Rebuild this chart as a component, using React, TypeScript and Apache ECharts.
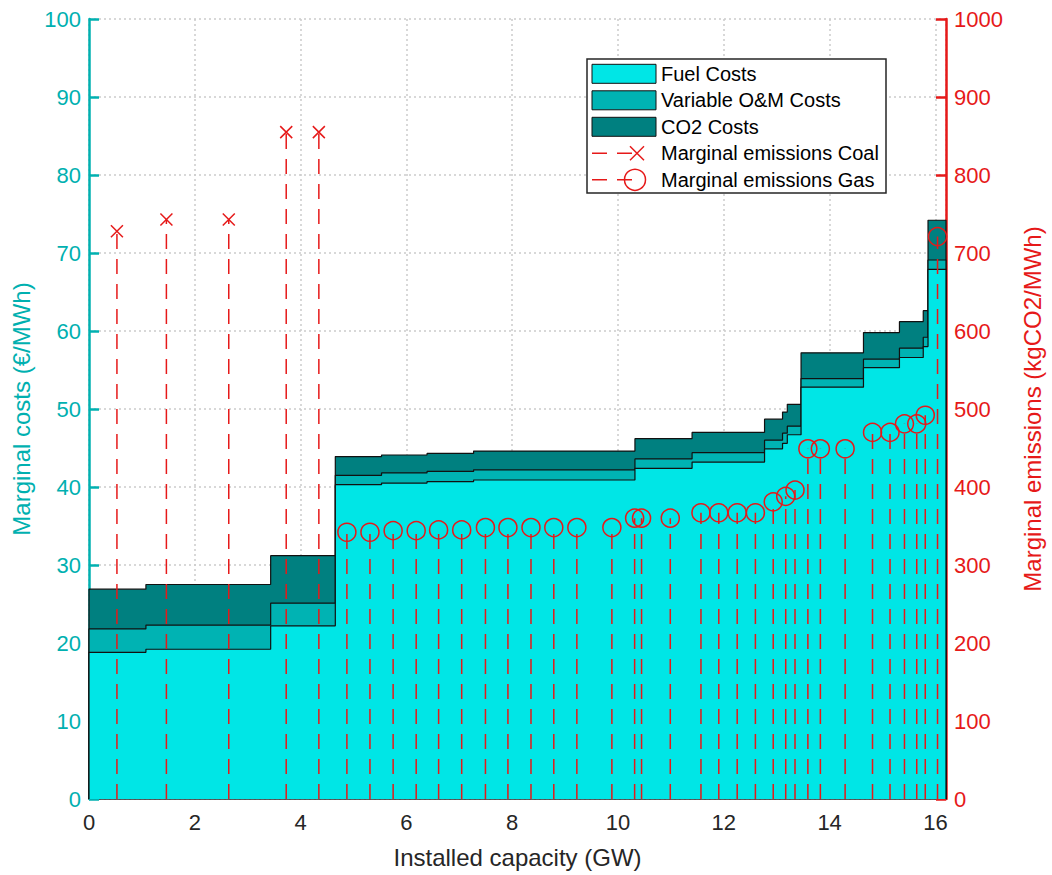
import React, { useEffect, useRef } from "react";
import * as echarts from "echarts";

// ---- Data ----
// Merit-order steps: start capacity (GW) of each visible cost step
const segStart = [0, 1.076, 3.434, 4.656, 5.53, 6.39, 7.27, 10.32, 11.4, 12.77, 13.11, 13.2, 13.46, 14.64, 15.32, 15.77, 15.86];
const capacityEnd = 16.2;
// Cost components (€/MWh) per step
const fuelCost = [18.8, 19.2, 22.2, 40.3, 40.5, 40.7, 40.9, 42.4, 43.2, 44.9, 45.6, 46.7, 52.8, 55.3, 56.6, 58.0, 67.9];
const omCost = [3.0, 3.1, 2.9, 1.2, 1.3, 1.3, 1.3, 1.2, 1.2, 1.1, 1.3, 1.1, 1.1, 1.1, 1.2, 1.2, 1.2];
const co2Cost = [5.1, 5.2, 6.1, 2.4, 2.3, 2.3, 2.4, 2.6, 2.6, 2.7, 2.7, 2.8, 3.3, 3.4, 3.4, 3.4, 5.1];

// Marginal emissions (kgCO2/MWh) at the middle of each plant
const coalCapacity = [0.528, 1.463, 2.642, 3.728, 4.345];
const coalEmissions = [728, 743, 743, 855, 855];
const gasCapacity = [4.875, 5.311, 5.749, 6.185, 6.609, 7.045, 7.494, 7.919, 8.355, 8.786, 9.222, 9.884, 10.314, 10.445, 10.988, 11.568, 11.905, 12.253, 12.597, 12.934, 13.17, 13.346, 13.589, 13.825, 14.293, 14.811, 15.142, 15.415, 15.647, 15.808, 16.04];
const gasEmissions = [342, 342, 344, 344, 345, 345, 348, 348, 348, 348, 348, 348, 360, 360, 360, 367, 367, 367, 367, 381, 388, 396, 449, 449, 449, 470, 470, 481, 481, 492, 721];

const xMax = 16.2;
const costTicks = { min: 0, max: 100, interval: 10 };
const emissionTicks = { min: 0, max: 1000, interval: 100 };

const seriesNames = ["Fuel Costs", "Variable O&M Costs", "CO2 Costs", "Marginal emissions Coal", "Marginal emissions Gas"];

// ---- Styles ----
const FONT = "'Liberation Sans', Arial, Helvetica, sans-serif";
const FUEL = "#00e6e6";
const OM = "#00b3b3";
const CO2 = "#008080";
const TEAL = "#00b0b0";
const RED = "#e61919";
const DARK = "#262626";

function stepData(values: number[]): number[][] {
  const pts: number[][] = [[0, 0]];
  segStart.forEach((x, i) => pts.push([x, values[i]]));
  pts.push([capacityEnd, values[values.length - 1]]);
  pts.push([capacityEnd, 0]);
  return pts;
}

export default function App() {
  const ref = useRef<HTMLDivElement | null>(null);

  useEffect(() => {
    if (!ref.current) return;
    const chart = echarts.init(ref.current, undefined, { renderer: "svg" });

    const fuelTop = fuelCost.map((f) => f);
    const omTop = fuelCost.map((f, i) => f + omCost[i]);
    const totalTop = fuelCost.map((f, i) => f + omCost[i] + co2Cost[i]);

    const areaSeries = (name: string, vals: number[], color: string, z: number) => ({
      name,
      type: "line",
      step: "end",
      data: stepData(vals),
      showSymbol: false,
      symbol: "none",
      z,
      lineStyle: { color: "#111111", width: 1.2 },
      itemStyle: { color },
      areaStyle: { color, opacity: 1 },
      yAxisIndex: 0,
      silent: true,
    });

    const stemSeries = (name: string, caps: number[], vals: number[], kind: "x" | "o") => ({
      name,
      type: "custom",
      yAxisIndex: 1,
      z: 10,
      data: caps.map((c, i) => [c, vals[i]]),
      encode: { x: 0, y: 1 },
      renderItem: (_params: any, api: any) => {
        const x = api.value(0);
        const v = api.value(1);
        const p0 = api.coord([x, 0]);
        const p1 = api.coord([x, v]);
        const children: any[] = [
          {
            type: "line",
            shape: { x1: p0[0], y1: p0[1], x2: p1[0], y2: p1[1] },
            style: { stroke: RED, lineWidth: 1.5, lineDash: [15, 10], fill: "none" },
          },
        ];
        if (kind === "x") {
          const s = 6;
          children.push(
            { type: "line", shape: { x1: p1[0] - s, y1: p1[1] - s, x2: p1[0] + s, y2: p1[1] + s }, style: { stroke: RED, lineWidth: 1.5 } },
            { type: "line", shape: { x1: p1[0] - s, y1: p1[1] + s, x2: p1[0] + s, y2: p1[1] - s }, style: { stroke: RED, lineWidth: 1.5 } }
          );
        } else {
          children.push({ type: "circle", shape: { cx: p1[0], cy: p1[1], r: 9 }, style: { stroke: RED, fill: "none", lineWidth: 1.5 } });
        }
        return { type: "group", children };
      },
      silent: true,
    });

    // Legend drawn with graphic elements
    const lgX = 587, lgY = 59, lgW = 299, lgH = 134;
    const rows = [73.8, 100.3, 126.8, 153.3, 179.8];
    const swX = 592, swW = 64, swH = 19;
    const legendEls: any[] = [
      { type: "rect", shape: { x: lgX, y: lgY, width: lgW, height: lgH }, style: { fill: "#ffffff", stroke: DARK, lineWidth: 1.5 }, z: 100 },
    ];
    [FUEL, OM, CO2].forEach((c, i) => {
      legendEls.push({ type: "rect", shape: { x: swX, y: rows[i] - swH / 2, width: swW, height: swH }, style: { fill: c, stroke: "#111111", lineWidth: 1 }, z: 101 });
    });
    // coal icon
    legendEls.push({ type: "line", shape: { x1: 592, y1: rows[3], x2: 637, y2: rows[3] }, style: { stroke: RED, lineWidth: 1.5, lineDash: [15, 10] }, z: 101 });
    legendEls.push({ type: "line", shape: { x1: 630, y1: rows[3] - 7, x2: 644, y2: rows[3] + 7 }, style: { stroke: RED, lineWidth: 1.5 }, z: 101 });
    legendEls.push({ type: "line", shape: { x1: 630, y1: rows[3] + 7, x2: 644, y2: rows[3] - 7 }, style: { stroke: RED, lineWidth: 1.5 }, z: 101 });
    // gas icon
    legendEls.push({ type: "line", shape: { x1: 592, y1: rows[4], x2: 635, y2: rows[4] }, style: { stroke: RED, lineWidth: 1.5, lineDash: [15, 10] }, z: 101 });
    legendEls.push({ type: "circle", shape: { cx: 635, cy: rows[4], r: 10.5 }, style: { stroke: RED, fill: "none", lineWidth: 1.5 }, z: 101 });
    seriesNames.forEach((n, i) => {
      legendEls.push({
        type: "text",
        x: 661,
        y: rows[i],
        style: { text: n, fill: "#000000", font: `20px ${FONT}`, verticalAlign: "middle", align: "left" },
        z: 102,
      });
    });

    const option: any = {
      animation: false,
      backgroundColor: "#ffffff",
      textStyle: { fontFamily: FONT },
      grid: { left: 89, right: 96, top: 19, bottom: 76, containLabel: false },
      xAxis: {
        type: "value",
        min: 0,
        max: xMax,
        interval: 2,
        name: "Installed capacity (GW)",
        nameLocation: "middle",
        nameGap: 46,
        nameTextStyle: { fontSize: 24, color: DARK, fontFamily: FONT },
        axisLine: { show: true, onZero: false, lineStyle: { color: DARK, width: 1.5 } },
        axisTick: { show: false },
        axisLabel: {
          fontSize: 22,
          color: DARK,
          margin: 12,
          fontFamily: FONT,
          formatter: (v: number) => (Math.abs(v / 2 - Math.round(v / 2)) < 1e-6 ? String(Math.round(v)) : ""),
        },
        splitLine: { show: true, lineStyle: { color: "#cccccc", type: [2, 3], width: 1.5 } },
      },
      yAxis: [
        {
          type: "value",
          position: "left",
          min: costTicks.min,
          max: costTicks.max,
          interval: costTicks.interval,
          name: "Marginal costs (€/MWh)",
          nameLocation: "middle",
          nameRotate: 90,
          nameGap: 54,
          nameTextStyle: { fontSize: 24, color: TEAL, fontFamily: FONT },
          axisLine: { show: true, lineStyle: { color: TEAL, width: 2.5 } },
          axisTick: { show: true, inside: true, length: 10, lineStyle: { color: TEAL, width: 2.5 } },
          axisLabel: { fontSize: 22, color: TEAL, margin: 8, fontFamily: FONT, formatter: (v: number) => String(v) },
          splitLine: { show: true, lineStyle: { color: "#cccccc", type: [2, 3], width: 1.5 } },
        },
        {
          type: "value",
          position: "right",
          min: emissionTicks.min,
          max: emissionTicks.max,
          interval: emissionTicks.interval,
          name: "Marginal emissions (kgCO2/MWh)",
          nameLocation: "middle",
          nameRotate: 90,
          nameGap: 74,
          nameTextStyle: { fontSize: 24, color: RED, fontFamily: FONT },
          axisLine: { show: true, lineStyle: { color: RED, width: 2.5 } },
          axisTick: { show: true, inside: true, length: 10, lineStyle: { color: RED, width: 2.5 } },
          axisLabel: { fontSize: 22, color: RED, margin: 8, fontFamily: FONT, formatter: (v: number) => String(v) },
          splitLine: { show: false },
        },
      ],
      graphic: legendEls,
      series: [
        areaSeries(seriesNames[2], totalTop, CO2, 2),
        areaSeries(seriesNames[1], omTop, OM, 3),
        areaSeries(seriesNames[0], fuelTop, FUEL, 4),
        stemSeries(seriesNames[3], coalCapacity, coalEmissions, "x"),
        stemSeries(seriesNames[4], gasCapacity, gasEmissions, "o"),
      ],
    };

    chart.setOption(option);
    return () => chart.dispose();
  }, []);

  return <div ref={ref} style={{ position: "fixed", left: 0, top: 0, width: 1052, height: 875, background: "#fff" }} />;
}
